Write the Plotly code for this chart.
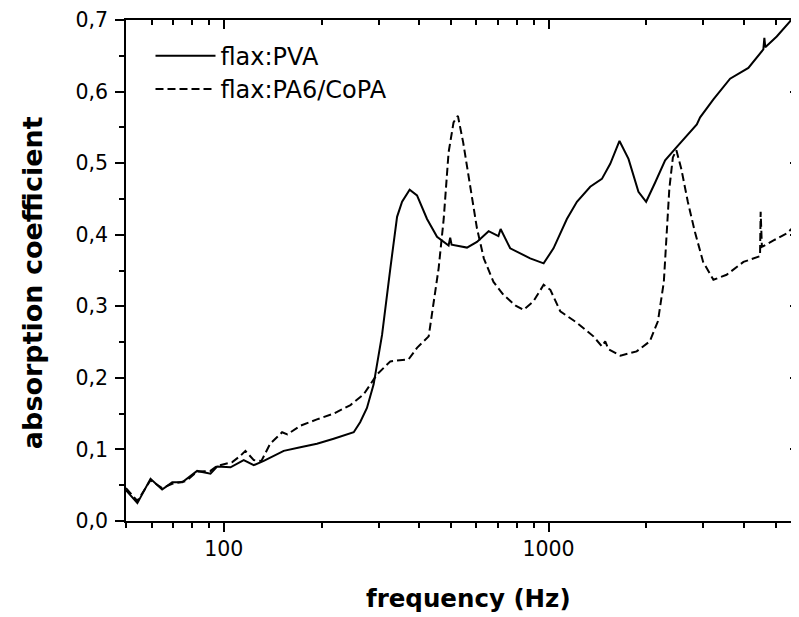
import plotly.graph_objects as go

# ── Données ──────────────────────────────────────────────────────
# flax:PVA (trait plein)
freq_pva = [50, 54.2, 59.5, 64.6, 69.4, 74.5, 82.8, 91, 95.4, 104.9, 115.2, 123.7, 132.8,
            153, 172.1, 193.6, 218, 251.3, 263, 276, 289.4, 307.2, 325.8, 341.7, 354.1,
            373.6, 393.6, 422.6, 453.6, 492.4, 498, 503, 561, 602, 654, 701, 712, 762,
            878, 966, 1036, 1139, 1223, 1344, 1460, 1549, 1654, 1763, 1892, 1998, 2130,
            2286, 2453, 2666, 2862, 2930, 3219, 3623, 4125, 4587, 4620, 4650, 5044, 5541, 5905]
abs_pva = [0.043, 0.025, 0.059, 0.044, 0.054, 0.054, 0.070, 0.066, 0.076, 0.075, 0.085, 0.078, 0.084,
           0.098, 0.103, 0.108, 0.115, 0.124, 0.138, 0.158, 0.191, 0.260, 0.353, 0.425, 0.446,
           0.463, 0.455, 0.422, 0.397, 0.385, 0.396, 0.386, 0.382, 0.390, 0.405, 0.398, 0.408, 0.381,
           0.367, 0.360, 0.381, 0.422, 0.446, 0.467, 0.478, 0.499, 0.531, 0.506, 0.460, 0.446, 0.473,
           0.504, 0.520, 0.538, 0.554, 0.564, 0.589, 0.618, 0.633, 0.659, 0.675, 0.662, 0.677, 0.698, 0.722]

# flax:PA6/CoPA (tirets)
freq_pa6 = [50, 54.2, 59.5, 64.6, 69.4, 76.7, 82.8, 91, 95.4, 106, 112.5, 116.6, 123.7, 130.6,
            139, 151.2, 157, 172, 193.6, 218, 245.6, 269.7, 296.7, 325.8, 371, 393.6, 427.6,
            442.6, 458.8, 475.6, 492.4, 510, 526, 546, 574, 602, 632, 677, 726, 792, 837, 899,
            966, 1013, 1087, 1223, 1375, 1460, 1495, 1530, 1665, 1868, 2050, 2172, 2265, 2305,
            2355, 2415, 2476, 2564, 2685, 2823, 2993, 3219, 3535, 3983, 4435, 4480, 4500, 4540,
            4930, 5420, 5905]
abs_pa6 = [0.046, 0.028, 0.057, 0.046, 0.052, 0.056, 0.069, 0.070, 0.077, 0.082, 0.091, 0.098, 0.085, 0.084,
           0.108, 0.124, 0.121, 0.133, 0.142, 0.150, 0.162, 0.177, 0.205, 0.223, 0.226, 0.242, 0.258,
           0.307, 0.353, 0.422, 0.515, 0.557, 0.566, 0.529, 0.469, 0.409, 0.367, 0.334, 0.316, 0.301, 0.295, 0.307,
           0.330, 0.323, 0.293, 0.277, 0.258, 0.244, 0.251, 0.240, 0.231, 0.237, 0.251, 0.279, 0.334, 0.399,
           0.464, 0.508, 0.518, 0.492, 0.446, 0.404, 0.362, 0.337, 0.344, 0.362, 0.369, 0.370, 0.432, 0.383,
           0.392, 0.402, 0.418]

x_major = [100, 1000]
x_major_text = ['100', '1000']
x_minor = [50, 60, 70, 80, 90, 200, 300, 400, 500, 600, 700, 800, 900, 2000, 3000, 4000, 5000]
y_ticks = [0.0, 0.1, 0.2, 0.3, 0.4, 0.5, 0.6, 0.7]
y_ticktext = ['0,0', '0,1', '0,2', '0,3', '0,4', '0,5', '0,6', '0,7']
X_RANGE = [1.69897, 3.7713]
Y_RANGE = [0, 0.7]

FONT = 'DejaVu Sans, Arial, sans-serif'
TICK = dict(ticklen=9, tickwidth=1.5, tickcolor='black')
MINOR = dict(ticklen=5, tickwidth=1.5, tickcolor='black', showgrid=False)

fig = go.Figure()
fig.add_trace(go.Scatter(x=freq_pva, y=abs_pva, mode='lines', name='flax:PVA',
                         line=dict(color='black', width=2), legend='legend'))
fig.add_trace(go.Scatter(x=freq_pa6, y=abs_pa6, mode='lines', name='flax:PA6/CoPA',
                         line=dict(color='black', width=2, dash='8px,4px'), legend='legend2'))
# trace invisible pour les axes miroir (haut / droite)
fig.add_trace(go.Scatter(x=freq_pva, y=abs_pva, mode='lines', xaxis='x2', yaxis='y2',
                         line=dict(color='rgba(0,0,0,0)', width=0), showlegend=False,
                         hoverinfo='skip'))

legend_style = dict(xanchor='left', yanchor='middle', bgcolor='rgba(0,0,0,0)',
                    font=dict(size=24), itemwidth=60)

fig.update_layout(
    width=791, height=609,
    margin=dict(l=117.5, r=0, t=9, b=96.3),
    paper_bgcolor='white', plot_bgcolor='white',
    font=dict(family=FONT, color='black'),
    xaxis=dict(
        type='log', range=X_RANGE, showgrid=False, zeroline=False,
        showline=True, linecolor='black', linewidth=1.5,
        tickmode='array', tickvals=x_major, ticktext=x_major_text,
        ticks='outside', tickfont=dict(size=20.5), ticklabeloverflow='allow', **TICK,
        minor=dict(tickmode='array', tickvals=x_minor, ticks='outside', **MINOR),
    ),
    yaxis=dict(
        range=Y_RANGE, showgrid=False, zeroline=False,
        showline=True, linecolor='black', linewidth=1.5,
        tickmode='array', tickvals=y_ticks, ticktext=y_ticktext,
        ticks='outside', tickfont=dict(size=20.5), ticklabeloverflow='allow',
        ticklabelstandoff=3, **TICK,
        minor=dict(dtick=0.05, ticks='outside', **MINOR),
    ),
    xaxis2=dict(
        type='log', range=X_RANGE, overlaying='x', side='top', anchor='y',
        showgrid=False, zeroline=False, showline=True, linecolor='black', linewidth=1.5,
        tickmode='array', tickvals=x_major, showticklabels=False, ticks='inside', **TICK,
        minor=dict(tickmode='array', tickvals=x_minor, ticks='inside', **MINOR),
    ),
    yaxis2=dict(
        range=Y_RANGE, overlaying='y', side='right', anchor='x',
        showgrid=False, zeroline=False, showline=False,
        tickmode='array', tickvals=y_ticks, showticklabels=False, ticks='inside', **TICK,
        minor=dict(dtick=0.05, ticks='inside', **MINOR),
    ),
    legend=dict(x=0.0364, y=0.928, **legend_style),
    legend2=dict(x=0.0364, y=0.8616, **legend_style),
    annotations=[
        dict(text='<b>frequency (Hz)</b>', xref='paper', yref='paper', x=0.5085, y=-0.1555,
             xanchor='center', yanchor='middle', showarrow=False, font=dict(size=24.5)),
        dict(text='<b>absorption coefficient</b>', xref='paper', yref='paper', x=-0.1388, y=0.4759,
             xanchor='center', yanchor='middle', textangle=-90, showarrow=False,
             font=dict(size=27)),
    ],
)

fig.write_html('out.html')
